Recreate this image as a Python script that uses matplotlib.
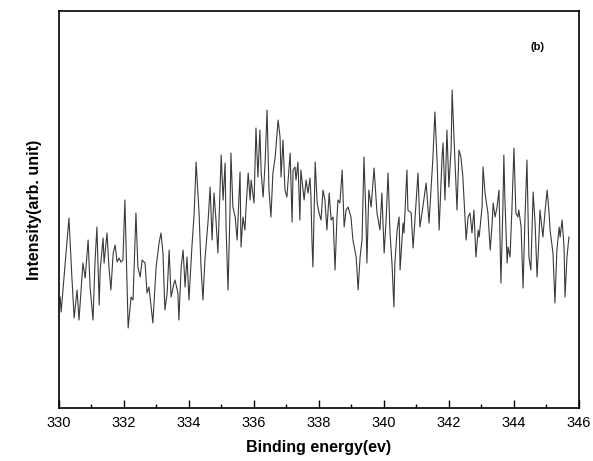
import matplotlib.pyplot as plt
from matplotlib.ticker import MultipleLocator

plt.rcParams["font.family"] = ["Liberation Sans", "DejaVu Sans"]

# XPS spectrum (binding energy in eV, intensity in arb. units)
energy = [
    330.05, 330.08, 330.32, 330.41, 330.48, 330.57, 330.63, 330.75, 330.82, 330.91,
    330.97, 331.06, 331.12, 331.18, 331.25, 331.28, 331.37, 331.40, 331.49, 331.55,
    331.61, 331.68, 331.74, 331.80, 331.86, 331.92, 331.98, 332.04, 332.14, 332.23,
    332.29, 332.38, 332.44, 332.51, 332.57, 332.66, 332.72, 332.78, 332.90, 333.00,
    333.09, 333.15, 333.21, 333.27, 333.34, 333.40, 333.46, 333.55, 333.58, 333.67,
    333.70, 333.77, 333.83, 333.89, 333.95, 334.01, 334.10, 334.17, 334.23, 334.32,
    334.38, 334.44, 334.50, 334.60, 334.66, 334.72, 334.78, 334.84, 334.90, 335.00,
    335.06, 335.12, 335.15, 335.21, 335.27, 335.30, 335.36, 335.43, 335.49, 335.58,
    335.61, 335.67, 335.73, 335.76, 335.83, 335.89, 335.92, 336.01, 336.07, 336.13,
    336.19, 336.23, 336.29, 336.35, 336.41, 336.47, 336.53, 336.59, 336.66, 336.75,
    336.81, 336.84, 336.90, 336.96, 337.02, 337.12, 337.18, 337.21, 337.27, 337.30,
    337.36, 337.42, 337.45, 337.55, 337.61, 337.67, 337.73, 337.76, 337.79, 337.82,
    337.89, 337.95, 338.01, 338.07, 338.13, 338.19, 338.25, 338.32, 338.38, 338.44,
    338.50, 338.56, 338.59, 338.65, 338.72, 338.78, 338.84, 338.90, 338.99, 339.05,
    339.15, 339.21, 339.27, 339.33, 339.39, 339.45, 339.48, 339.54, 339.61, 339.70,
    339.76, 339.79, 339.88, 339.94, 340.01, 340.07, 340.13, 340.19, 340.25, 340.31,
    340.34, 340.41, 340.47, 340.50, 340.59, 340.62, 340.71, 340.74, 340.84, 340.90,
    340.99, 341.05, 341.11, 341.20, 341.30, 341.39, 341.45, 341.51, 341.57, 341.64,
    341.70, 341.79, 341.82, 341.88, 341.94, 342.00, 342.07, 342.10, 342.16, 342.25,
    342.31, 342.37, 342.43, 342.53, 342.59, 342.65, 342.71, 342.77, 342.83, 342.90,
    342.93, 343.02, 343.05, 343.11, 343.20, 343.27, 343.33, 343.36, 343.42, 343.48,
    343.54, 343.60, 343.66, 343.69, 343.72, 343.79, 343.82, 343.88, 343.94, 344.00,
    344.06, 344.12, 344.15, 344.22, 344.28, 344.34, 344.40, 344.46, 344.52, 344.59,
    344.65, 344.71, 344.77, 344.80, 344.89, 344.96, 345.02, 345.08, 345.11, 345.20,
    345.26, 345.32, 345.39, 345.42, 345.48, 345.54, 345.57, 345.63, 345.69,
]
intensity = [
    111, 96, 190, 131, 90, 118, 88, 145, 130, 168,
    121, 88, 145, 181, 103, 138, 170, 145, 175, 141,
    118, 155, 163, 146, 150, 146, 148, 208, 80, 111,
    108, 195, 141, 131, 148, 145, 115, 121, 85, 141,
    165, 175, 155, 98, 115, 158, 111, 125, 128, 115,
    88, 141, 158, 121, 151, 108, 161, 195, 246, 195,
    141, 108, 148, 188, 221, 168, 215, 188, 155, 253,
    208, 245, 181, 118, 195, 255, 201, 191, 168, 236,
    161, 191, 178, 198, 235, 208, 228, 205, 280, 231,
    278, 235, 211, 245, 298, 218, 191, 235, 251, 288,
    271, 231, 268, 218, 211, 255, 186, 238, 241, 228,
    246, 188, 238, 208, 228, 215, 230, 211, 168, 141,
    246, 205, 195, 188, 218, 208, 178, 215, 188, 191,
    138, 191, 208, 205, 238, 181, 198, 201, 191, 168,
    151, 118, 151, 168, 251, 191, 145, 218, 201, 240,
    211, 195, 178, 215, 155, 188, 235, 175, 145, 101,
    145, 178, 191, 138, 185, 175, 238, 198, 195, 160,
    205, 235, 181, 201, 225, 185, 218, 251, 296, 245,
    178, 251, 265, 208, 278, 221, 261, 318, 268, 198,
    258, 251, 231, 168, 191, 195, 175, 198, 151, 178,
    171, 201, 241, 215, 195, 158, 185, 205, 191, 201,
    218, 125, 201, 253, 211, 145, 161, 151, 201, 260,
    195, 191, 198, 181, 120, 191, 248, 151, 138, 216,
    185, 131, 171, 198, 171, 198, 218, 195, 178, 155,
    105, 158, 181, 171, 188, 161, 111, 151, 171,
]

fig = plt.figure(figsize=(5.93, 4.61), dpi=100)
ax = fig.add_axes([0.0987, 0.115, 0.8777, 0.861])

ax.plot(energy, intensity, color="#3a3a3a", linewidth=0.8)

ax.set_xlim(330, 346)
ax.set_ylim(0, 397)
ax.xaxis.set_major_locator(MultipleLocator(2))
ax.xaxis.set_minor_locator(MultipleLocator(1))
ax.tick_params(axis="x", which="major", direction="in", length=6, width=1,
               labelsize=10.5, pad=6)
ax.tick_params(axis="x", which="minor", direction="in", length=3, width=1)
ax.set_yticks([])

for s in ax.spines.values():
    s.set_linewidth(1.2)
    s.set_color("black")

ax.set_xlabel("Binding energy(ev)", fontsize=11.5, fontweight="bold", labelpad=7)
ax.set_ylabel("Intensity(arb. unit)", fontsize=11.5, fontweight="bold", labelpad=12)

ax.text(0.92, 0.91, "(b)", transform=ax.transAxes, fontsize=8,
        fontweight="bold", ha="center", va="center")

fig.savefig("out.png", dpi=100)
